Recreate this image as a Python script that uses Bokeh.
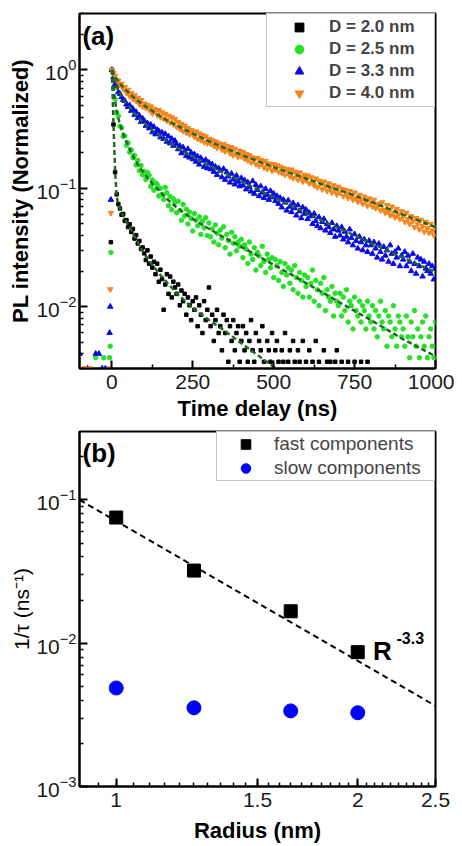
from bokeh.plotting import figure
from bokeh.layouts import column
from bokeh.models import FixedTicker, Legend, LegendItem, Label, NumeralTickFormatter
from bokeh.embed import file_html
from bokeh.resources import INLINE

# ---------------- panel (a) data : photon counts per time bin ----------------
time_ns = list(range(-100, -9, 5)) + [-7, -5, -3] + list(range(0, 1001, 5))

counts_d20 = [2, 1, 3, 2, 1, 2, 3, 1, 2, 2, 1, 3, 2, 1, 2, 3, 1, 2, 2, 2, 3, 41,
              1170, 405, 160, 104, 86, 79, 70, 71, 62, 63, 55, 58, 50, 53, 44, 47, 40, 42, 36, 37,
              33, 29, 35, 27, 31, 25, 28, 22, 27, 19, 24, 20, 11, 18, 22, 15, 21, 14, 19, 17,
              15, 18, 12, 16, 13, 15, 10, 14, 12, 9, 13, 11, 14, 8, 12, 10, 7, 13, 9, 11,
              17, 8, 10, 6, 9, 11, 7, 8, 5, 10, 7, 9, 4, 8, 6, 9, 5, 7, 8, 4,
              6, 8, 5, 7, 4, 6, 9, 5, 4, 7, 3, 6, 5, 8, 4, 3, 6, 5, 4, 7,
              3, 5, 6, 4, 2, 5, 4, 7, 3, 4, 5, 2, 6, 4, 3, 5, 4, 2, 6, 3,
              4, 2, 5, 3, 4, 3, 6, 2, 4, 3, 2, 5, 3, 4, 2, 4, 3, 2, 4, 5,
              2, 3, 4, 2, 3, 1, 4, 2, 3, 2, 4, 1, 3, 2, 4, 2, 1, 3, 4, 2,
              3, 1, 2, 3, 2, 1, 3, 2, 2, 1, 3, 2, 1, 2, 2, 1, 3, 1, 2, 1,
              2, 1, 3, 1, 2, 1, 1, 2, 3, 1, 2, 1, 2, 1, 1, 3, 1, 2, 1, 2, 1]

counts_d25 = [1, 2, 1, 3, 2, 1, 2, 3, 1, 2, 4, 3, 1, 2, 2, 4, 1, 3, 2, 4, 5, 31,
              1080, 760, 612, 470, 440, 362, 352, 296, 300, 250, 262, 218, 228, 196, 205, 170, 186, 152, 168, 140,
              150, 128, 147, 139, 112, 127, 104, 120, 116, 93, 108, 96, 87, 110, 99, 77, 92, 71, 88, 82,
              67, 84, 70, 58, 79, 63, 72, 54, 68, 60, 47, 66, 58, 52, 62, 44, 57, 50, 61, 43,
              55, 42, 49, 38, 53, 45, 36, 48, 41, 51, 34, 44, 39, 30, 46, 37, 42, 32, 38, 35,
              40, 28, 36, 33, 25, 38, 30, 27, 34, 22, 31, 29, 24, 35, 26, 21, 30, 27, 23, 28,
              19, 27, 24, 18, 26, 21, 16, 25, 20, 23, 17, 22, 15, 24, 19, 14, 21, 18, 13, 20,
              16, 19, 13, 17, 22, 12, 18, 15, 11, 17, 14, 19, 10, 15, 13, 12, 16, 9, 14, 12,
              11, 14, 9, 13, 10, 15, 8, 12, 11, 7, 13, 10, 9, 12, 8, 11, 10, 7, 12, 9,
              8, 11, 7, 10, 6, 9, 12, 8, 7, 10, 5, 9, 8, 6, 11, 7, 5, 9, 8, 6,
              7, 5, 9, 6, 4, 8, 6, 10, 5, 7, 4, 6, 8, 5, 9, 4, 6, 7, 5, 4, 8]

counts_d33 = [4, 2, 1, 2, 1, 3, 2, 1, 2, 1, 4, 2, 4, 1, 3, 2, 3, 1, 2, 6, 10, 80,
              1000, 870, 760, 735, 650, 628, 590, 560, 548, 512, 486, 505, 452, 470, 418, 442, 392, 410, 365, 388,
              372, 338, 355, 322, 345, 298, 330, 286, 312, 305, 270, 296, 262, 288, 248, 275, 240, 262, 229, 252,
              236, 214, 228, 198, 222, 205, 188, 215, 182, 200, 176, 194, 168, 186, 159, 180, 171, 152, 174, 148,
              165, 145, 160, 138, 152, 130, 148, 141, 124, 146, 118, 137, 126, 112, 133, 119, 108, 128, 114, 104,
              122, 106, 117, 98, 112, 103, 94, 115, 90, 107, 97, 86, 104, 92, 83, 99, 88, 80, 95, 84,
              90, 78, 86, 74, 83, 69, 80, 76, 65, 79, 70, 63, 75, 68, 59, 72, 64, 56, 69, 61,
              66, 55, 62, 58, 50, 61, 53, 48, 57, 46, 52, 55, 44, 50, 47, 42, 51, 45, 39, 48,
              44, 40, 47, 37, 43, 39, 35, 45, 38, 33, 41, 36, 31, 39, 35, 30, 37, 33, 29, 36,
              33, 28, 35, 31, 26, 34, 29, 25, 32, 27, 30, 24, 33, 28, 23, 29, 26, 31, 22, 27,
              25, 29, 22, 27, 24, 20, 28, 23, 19, 26, 22, 25, 18, 24, 21, 20, 23, 19, 22, 17, 21]

counts_d40 = [1, 2, 3, 1, 3, 2, 1, 3, 2, 1, 2, 1, 2, 1, 1, 2, 1, 2, 1, 3, 14, 62,
              1000, 935, 890, 820, 812, 748, 765, 690, 718, 642, 680, 600, 636, 570, 610, 548, 580, 512, 556, 490,
              520, 478, 505, 462, 492, 430, 470, 448, 415, 458, 400, 438, 386, 425, 372, 410, 360, 398, 348, 385,
              330, 362, 318, 350, 305, 338, 296, 322, 285, 310, 300, 272, 302, 262, 290, 255, 282, 246, 274, 240,
              262, 238, 255, 228, 248, 220, 240, 232, 212, 236, 205, 228, 214, 198, 222, 190, 215, 196, 184, 208,
              186, 202, 178, 195, 172, 190, 165, 182, 176, 160, 180, 155, 174, 164, 150, 170, 146, 162, 155, 141,
              160, 144, 156, 138, 152, 135, 148, 130, 145, 140, 126, 144, 122, 138, 131, 118, 136, 124, 114, 130,
              117, 128, 110, 124, 114, 106, 121, 102, 116, 110, 98, 114, 104, 95, 110, 100, 92, 106, 97, 89,
              103, 92, 99, 86, 97, 90, 83, 95, 85, 80, 92, 82, 77, 88, 80, 74, 85, 78, 71, 82,
              76, 70, 80, 68, 74, 72, 65, 76, 66, 62, 72, 64, 59, 70, 62, 57, 67, 60, 55, 64,
              58, 52, 62, 55, 50, 58, 53, 47, 56, 50, 45, 54, 48, 43, 52, 46, 42, 50, 44, 40, 47]

# multi-exponential fits (normalized)
fit_time_ns = [0, 5, 10, 15, 20, 30, 40, 50, 60, 70, 80, 90, 100, 125, 150, 175, 200, 250, 300,
               350, 400, 450, 500, 550, 600, 650, 700, 750, 800, 850, 900, 950, 1000]
fit_d20 = [1.0, 0.35, 0.14, 0.086, 0.072, 0.062, 0.055, 0.049, 0.044, 0.039, 0.035, 0.031, 0.028,
           0.0225, 0.0185, 0.0155, 0.013, 0.0097, 0.0077, 0.0062, 0.0049, 0.0039, 0.0031, 0.0025,
           0.002, 0.0016, 0.0013, 0.0011, 0.0009, 0.0007, 0.0006, 0.0005, 0.0004]
fit_d25 = [1.0, 0.72, 0.55, 0.45, 0.39, 0.315, 0.265, 0.23, 0.2, 0.177, 0.16, 0.145, 0.133, 0.109,
           0.093, 0.079, 0.069, 0.055, 0.0455, 0.038, 0.032, 0.027, 0.0225, 0.019, 0.0158, 0.0132,
           0.011, 0.0092, 0.0077, 0.0064, 0.0053, 0.0045, 0.0038]
fit_d33 = [1.0, 0.86, 0.78, 0.72, 0.67, 0.6, 0.54, 0.5, 0.46, 0.43, 0.4, 0.375, 0.355, 0.31, 0.275,
           0.245, 0.222, 0.185, 0.156, 0.133, 0.114, 0.098, 0.084, 0.072, 0.062, 0.053, 0.046, 0.04,
           0.0345, 0.03, 0.026, 0.0225, 0.0195]
fit_d40 = [1.0, 0.93, 0.88, 0.84, 0.8, 0.74, 0.69, 0.65, 0.61, 0.58, 0.55, 0.525, 0.5, 0.45, 0.405,
           0.37, 0.34, 0.29, 0.25, 0.218, 0.192, 0.17, 0.151, 0.135, 0.121, 0.108, 0.097, 0.087,
           0.077, 0.068, 0.06, 0.053, 0.047]

series_labels = ["D = 2.0 nm", "D = 2.5 nm", "D = 3.3 nm", "D = 4.0 nm"]

# ---------------- panel (b) data ----------------
radius_nm = [1.0, 1.25, 1.65, 2.0]
rate_fast = [0.0753, 0.0321, 0.0167, 0.00866]
rate_slow = [0.00487, 0.00354, 0.00337, 0.00327]
powerlaw_radius = [0.9, 2.5]
powerlaw_rate = [0.100, 0.00365]

FONT = "Liberation Sans"


def norm(c):
    m = max(c)
    return [v / m for v in c]


def style_axes(p):
    for ax in (p.xaxis[0], p.yaxis[0]):
        ax.axis_line_width = 2
        ax.axis_line_color = "black"
        ax.major_tick_in = 8
        ax.major_tick_out = 0
        ax.minor_tick_in = 4
        ax.minor_tick_out = 0
        ax.major_tick_line_width = 2
        ax.minor_tick_line_width = 1.5
        ax.major_tick_line_color = "black"
        ax.minor_tick_line_color = "black"
        ax.major_label_text_font = FONT
        ax.major_label_text_font_size = "21px"
        ax.major_label_text_color = "#1a1a1a"
        ax.axis_label_text_font = FONT
        ax.axis_label_text_font_size = "22px"
        ax.axis_label_text_font_style = "bold"
        ax.axis_label_text_color = "black"
    p.xaxis.major_label_standoff = 6
    p.yaxis.major_label_standoff = 3
    p.yaxis.axis_label_standoff = 0
    p.grid.visible = False
    p.outline_line_color = "black"
    p.outline_line_width = 2
    p.outline_line_alpha = 1.0


# ================= figure (a) =================
pa = figure(width=454, height=428, x_range=(-100, 1000), y_range=(0.003, 3), y_axis_type="log",
            output_backend="svg", toolbar_location=None,
            min_border_left=79, min_border_right=19, min_border_top=13, min_border_bottom=60)
style_axes(pa)
pa.xaxis.ticker = FixedTicker(ticks=[0, 250, 500, 750, 1000], minor_ticks=[125, 375, 625, 875])
pa.yaxis.ticker = FixedTicker(ticks=[0.01, 0.1, 1],
                              minor_ticks=[m * 10.0 ** e for e in (-3, -2, -1, 0) for m in range(2, 10)])
pa.xaxis.axis_label = "Time delay (ns)"
pa.yaxis.axis_label = "PL intensity (Normalized)"
pa.xaxis.axis_label_standoff = 4

r20 = pa.scatter(time_ns, norm(counts_d20), marker="square", size=3.5, color="#000000")
r25 = pa.scatter(time_ns, norm(counts_d25), marker="circle", size=4.5, color="#27e027")
r33 = pa.scatter(time_ns, norm(counts_d33), marker="triangle", size=5.5, color="#0a0ae8")
r40 = pa.scatter(time_ns, norm(counts_d40), marker="inverted_triangle", size=5.5, color="#f7851e")
for f in (fit_d20, fit_d25, fit_d33, fit_d40):
    pa.line(fit_time_ns, f, line_color="#1d6a1d", line_width=2.5, line_dash="5 3")

leg_a = Legend(items=[LegendItem(label=series_labels[0], renderers=[r20]),
                      LegendItem(label=series_labels[1], renderers=[r25]),
                      LegendItem(label=series_labels[2], renderers=[r33]),
                      LegendItem(label=series_labels[3], renderers=[r40])],
               location="top_right", margin=0, padding=2, spacing=0,
               glyph_height=22, glyph_width=60, label_standoff=0, label_width=103,
               label_text_font=FONT, label_text_font_size="17px", label_text_font_style="bold",
               border_line_color="#8c8c8c", border_line_width=1, background_fill_alpha=1.0)
pa.add_layout(leg_a)
pa.add_layout(Label(x=-91, y=1.95, text="(a)", text_font=FONT, text_font_size="26px",
                    text_font_style="bold", text_baseline="alphabetic", text_color="black"))

# ================= figure (b) =================
pb = figure(width=454, height=418, x_range=(0.9, 2.5), y_range=(0.001, 0.3),
            x_axis_type="log", y_axis_type="log", output_backend="svg", toolbar_location=None,
            min_border_left=79, min_border_right=19, min_border_top=3, min_border_bottom=60)
style_axes(pb)
pb.xaxis.ticker = FixedTicker(ticks=[1, 1.5, 2, 2.5],
                              minor_ticks=[round(0.9 + 0.05 * i, 2) for i in range(1, 32)])
pb.xaxis.formatter = NumeralTickFormatter(format="0.[0]")
pb.yaxis.ticker = FixedTicker(ticks=[0.001, 0.01, 0.1],
                              minor_ticks=[m * 10.0 ** e for e in (-3, -2, -1) for m in range(2, 10)])
pb.xaxis.axis_label = "Radius (nm)"
pb.xaxis.axis_label_standoff = 8
pb.yaxis.axis_label = "1/τ (ns⁻¹)"
pb.yaxis.axis_label_text_font_style = "normal"
pb.yaxis.axis_label_text_font_size = "21px"

pb.line(powerlaw_radius, powerlaw_rate, line_color="black", line_width=2, line_dash="6 4")
rf = pb.scatter(radius_nm, rate_fast, marker="square", size=13, color="black")
rs = pb.scatter(radius_nm, rate_slow, marker="circle", size=14, color="#0000ff")

leg_b = Legend(items=[LegendItem(label="fast components", renderers=[rf]),
                      LegendItem(label="slow components", renderers=[rs])],
               location="top_right", margin=0, padding=0, spacing=0,
               glyph_height=24, glyph_width=57, label_standoff=0, label_width=160,
               label_text_font=FONT, label_text_font_size="19px",
               border_line_color="#8c8c8c", border_line_width=1, background_fill_alpha=1.0)
pb.add_layout(leg_b)
pb.add_layout(Label(x=0.9078, y=0.214, text="(b)", text_font=FONT, text_font_size="26px",
                    text_font_style="bold", text_baseline="alphabetic", text_color="black"))
pb.add_layout(Label(x=2.09, y=0.00875, text="R", text_font=FONT, text_font_size="26px",
                    text_font_style="bold", text_baseline="alphabetic", text_color="black"))
pb.add_layout(Label(x=2.235, y=0.01095, text="-3.3", text_font=FONT, text_font_size="16px",
                    text_font_style="bold", text_baseline="alphabetic", text_color="black"))

layout = column(pa, pb)
open("out.html", "w").write(file_html(layout, INLINE))
